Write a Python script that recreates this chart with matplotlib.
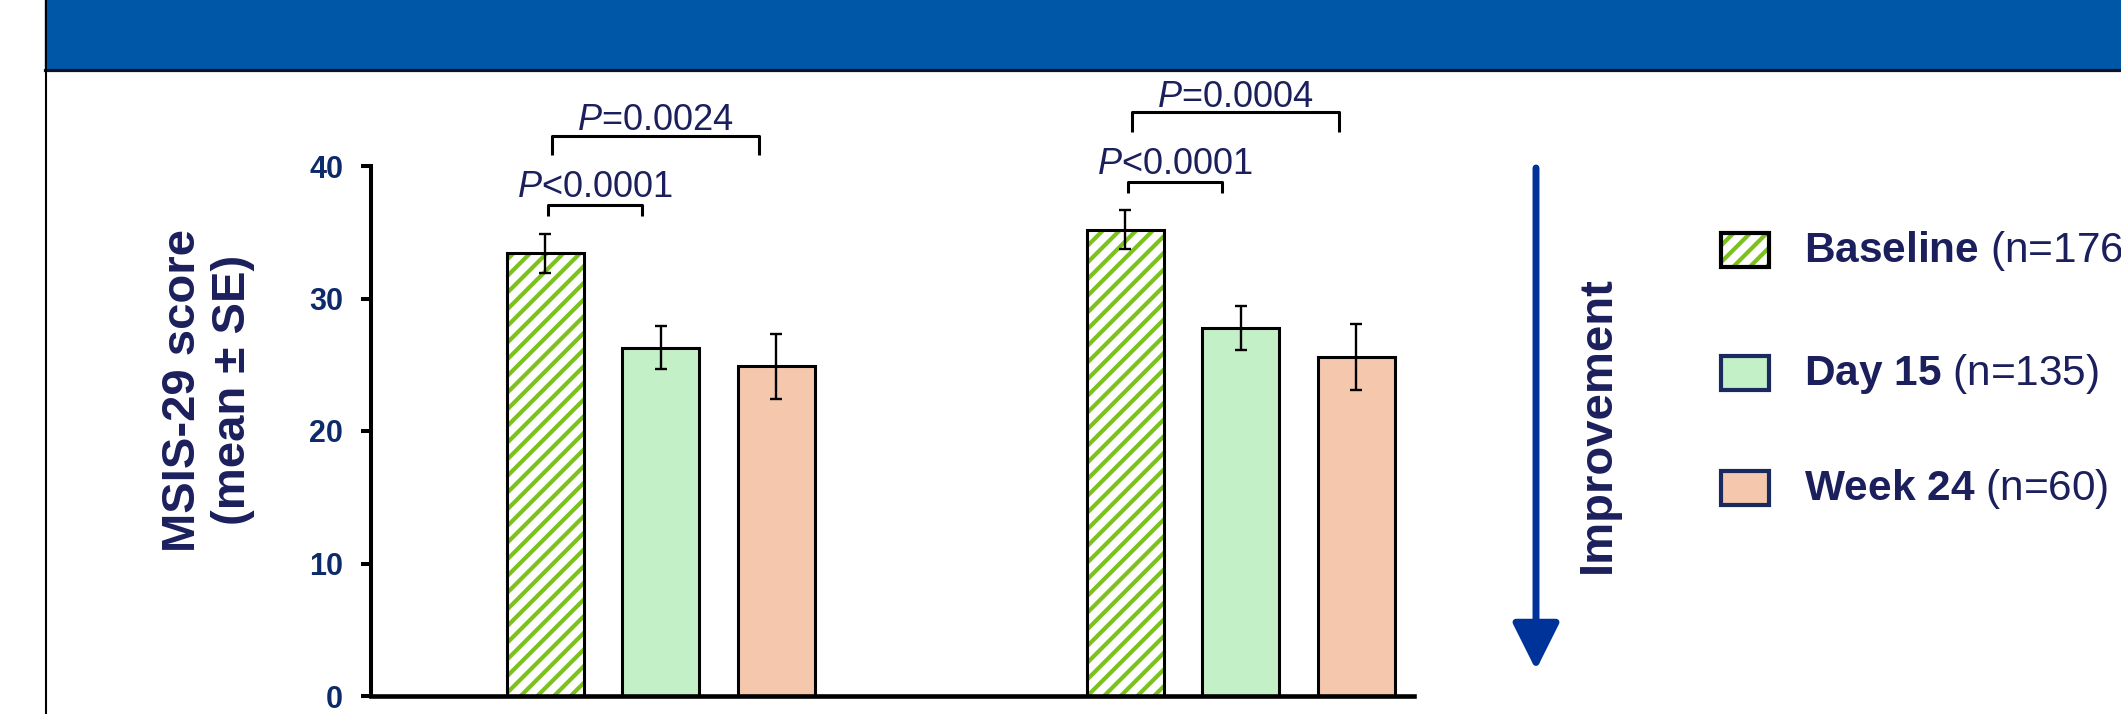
import matplotlib
matplotlib.use("Agg")
import matplotlib.pyplot as plt
from matplotlib.patches import Rectangle
from matplotlib.lines import Line2D

plt.rcParams['font.family'] = ['Liberation Sans', 'DejaVu Sans']
plt.rcParams['mathtext.fontset'] = 'custom'
plt.rcParams['mathtext.rm'] = 'Liberation Sans'
plt.rcParams['mathtext.bf'] = 'Liberation Sans:bold'
plt.rcParams['mathtext.it'] = 'Liberation Sans:italic'
plt.rcParams['hatch.linewidth'] = 3.0

# data
timepoints = ['Baseline', 'Day 15', 'Week 24']
n_patients = [176, 135, 60]
group1_mean = [33.4, 26.3, 24.9]
group1_se = [1.5, 1.6, 2.45]
group2_mean = [35.2, 27.8, 25.6]
group2_se = [1.45, 1.65, 2.5]
# p-values: baseline vs day 15, baseline vs week 24
group1_p = ['<0.0001', '=0.0024']
group2_p = ['<0.0001', '=0.0004']

# colours
banner_blue = '#0057a8'
navy = '#1b1f5c'
tick_blue = '#0d2b6b'
hatch_green = '#7cc21c'
fills = ['white', '#c4f0c8', '#f5c8ae']
arrow_blue = '#003399'

W, H = 2121, 714
fig = plt.figure(figsize=(W / 100, H / 100), dpi=100)

# header band and frame
fig.add_artist(Rectangle((45 / W, (H - 68) / H), 1 - 45 / W, 68 / H,
                         transform=fig.transFigure, color=banner_blue, zorder=0))
fig.add_artist(Line2D([45 / W, 1], [(H - 69.5) / H] * 2, transform=fig.transFigure,
                      color='#0b1426', lw=2.3))
fig.add_artist(Line2D([45.5 / W] * 2, [0, 1], transform=fig.transFigure,
                      color='black', lw=1.5))

ax = fig.add_axes([371 / W, 18 / H, 1043 / W, 530 / H])
ax.set_xlim(-2.51, 6.52)
ax.set_ylim(0, 40)

group_x = [0, 5.02]
offsets = [-1, 0, 1]
width = 0.667

def bracket(x0, x1, top, drop, label, gap):
    ax.plot([x0, x0, x1, x1], [top - drop, top, top, top - drop], color='black',
            lw=2.2, clip_on=False, solid_joinstyle='round', solid_capstyle='butt')
    ax.text((x0 + x1) / 2, top + gap, r'$\mathit{P}$' + label, ha='center',
            va='baseline', fontsize=26, color=navy, clip_on=False)

for gx, means, ses, pvals in zip(group_x, [group1_mean, group2_mean],
                                 [group1_se, group2_se], [group1_p, group2_p]):
    for i, (m, s) in enumerate(zip(means, ses)):
        x = gx + offsets[i]
        if i == 0:
            ax.bar(x, m, width, color='white', edgecolor=hatch_green, hatch='//',
                   linewidth=0, zorder=2)
            ax.bar(x, m, width, fill=False, edgecolor='black', linewidth=2.2, zorder=3)
        else:
            ax.bar(x, m, width, color=fills[i], edgecolor='black', linewidth=2.2, zorder=2)
        ax.errorbar(x, m, yerr=s, fmt='none', ecolor='black', elinewidth=1.7,
                    capsize=4.3, capthick=1.7, zorder=4)
    top = means[0] + ses[0]
    bracket(gx - 0.98, gx - 0.16, top + 2.15, 0.85, pvals[0], 0.6)
    bracket(gx - 0.94, gx + 0.85, top + 7.4, 1.45, pvals[1], 0.4)

for side in ['top', 'right']:
    ax.spines[side].set_visible(False)
ax.spines['left'].set_linewidth(2.9)
ax.spines['bottom'].set_linewidth(3.3)
ax.set_xticks([])
ax.set_yticks([0, 10, 20, 30, 40])
ax.tick_params(axis='y', length=7, width=2.9, pad=13, labelsize=22, labelcolor=tick_blue)
for lab in ax.get_yticklabels():
    lab.set_fontweight('bold')

fig.text(208 / W, (H - 390) / H, 'MSIS-29 score\n(mean ± SE)', rotation=90,
         ha='center', va='center', multialignment='center', fontsize=34,
         fontweight='bold', color=navy, linespacing=1.2)

# improvement arrow
ax.annotate('', xy=(1536, H - 670), xytext=(1536, H - 168), xycoords='figure pixels',
            textcoords='figure pixels',
            arrowprops=dict(arrowstyle='-|>,head_length=0.4,head_width=0.2',
                            mutation_scale=72, lw=5, color=arrow_blue,
                            shrinkA=0, shrinkB=0))
fig.text(1598 / W, (H - 425) / H, 'Improvement', rotation=90, ha='center', va='center',
         fontsize=34, fontweight='bold', color=navy)

# legend
row_y = [250, 373, 488]
for i, (name, n, cy) in enumerate(zip(timepoints, n_patients, row_y)):
    edge = 'black' if i == 0 else '#1b2a5e'
    rect = Rectangle((1721 / W, (H - cy - 17) / H), 48 / W, 34 / H,
                     transform=fig.transFigure, facecolor=fills[i],
                     edgecolor=hatch_green if i == 0 else edge,
                     hatch='//' if i == 0 else None, linewidth=0 if i == 0 else 3)
    fig.add_artist(rect)
    if i == 0:
        fig.add_artist(Rectangle((1721 / W, (H - cy - 17) / H), 48 / W, 34 / H,
                                 transform=fig.transFigure, fill=False,
                                 edgecolor=edge, linewidth=3))
    label = r'$\mathbf{' + name.replace(' ', r'\ ') + '}$ (n=' + str(n) + ')'
    fig.text(1804 / W, (H - cy - 12) / H, label, ha='left', va='baseline',
             fontsize=30.5, color=navy)

fig.savefig('out.png', dpi=100)
